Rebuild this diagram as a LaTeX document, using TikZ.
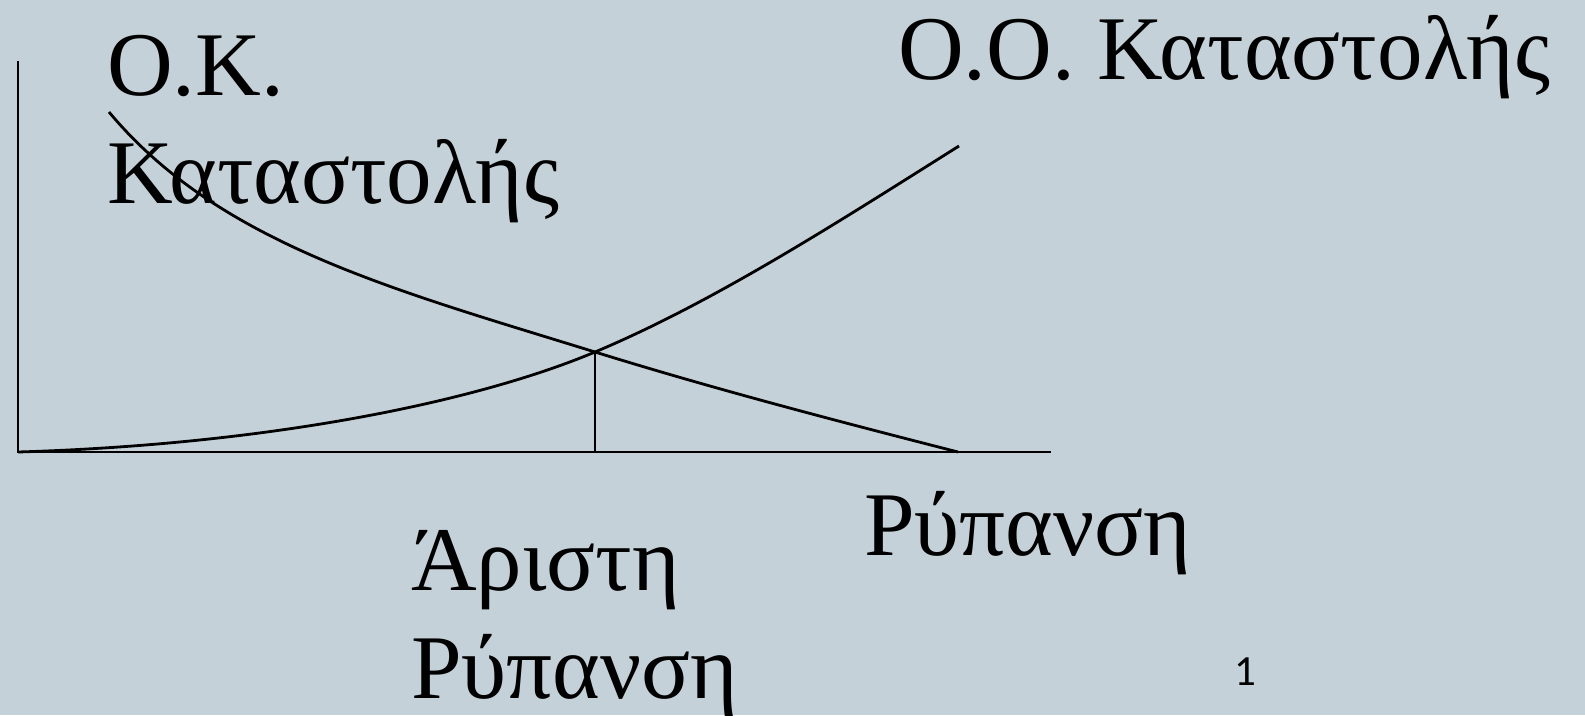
\documentclass[tikz,border=0pt]{standalone}
\usepackage{fontspec}
\setmainfont{Liberation Serif}
\newfontfamily\numfont{Carlito}
\definecolor{bgc}{RGB}{197,209,216}
\begin{document}
\begin{tikzpicture}[x=1pt,y=-1pt,
  lbl/.style={anchor=base west,inner sep=0pt,outer sep=0pt,font=\fontsize{91}{108}\selectfont},
  crv/.style={line width=2.8pt,black}]
\useasboundingbox (0,0) rectangle (1585,715);
\fill[bgc] (0,0) rectangle (1585,715);
% coordinates
\coordinate (O) at (18,452);
\coordinate (Ytop) at (18,61);
\coordinate (Xend) at (1051,452);
\coordinate (I) at (595,352);
\coordinate (Ibase) at (595,452);
\coordinate (MACstart) at (109,112);
\coordinate (MACend) at (958,452);
\coordinate (MDCend) at (959,146);
% axes
\draw[crv] (Ytop) -- (O) -- (Xend);
% marginal abatement cost (decreasing)
\draw[crv] (MACstart) .. controls (219,244) and (395,290) .. (I)
  .. controls (716,389.5) and (837,421) .. (MACend);
% marginal damage cost (increasing)
\draw[crv] (O) .. controls (268,444.5) and (475,402.4) .. (I)
  .. controls (715,301.6) and (839,221.4) .. (MDCend);
% optimum
\draw[crv] (I) -- (Ibase);
% labels
\node[lbl] (oo) at (898,79) {Ο.Ο. Καταστολής};
\node[lbl] (ok1) at (107,95) {Ο.Κ.};
\node[lbl] (ok2) at (107,203) {Καταστολής};
\node[lbl] (ar1) at (411,590) {Άριστη};
\node[lbl] (ar2) at (411,698) {Ρύπανση};
\node[lbl] (xl) at (864,555) {Ρύπανση};
\node[anchor=base west,inner sep=0pt,font=\numfont\fontsize{43}{50}\selectfont] (pg) at (1234,685) {1};
\end{tikzpicture}
\end{document}
